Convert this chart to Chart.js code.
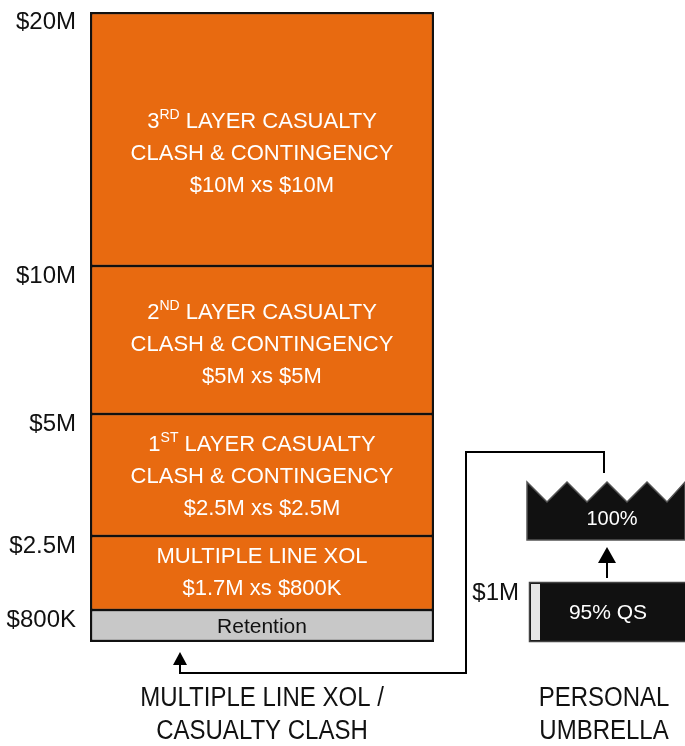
<!DOCTYPE html>
<html>
<head>
<meta charset="utf-8">
<script src="https://cdn.jsdelivr.net/npm/chart.js@4.4.1/dist/chart.umd.min.js"></script>
<style>
  html, body { margin: 0; padding: 0; background: #fff; }
  #wrap { width: 685px; height: 746px; position: relative; }
</style>
</head>
<body>
<div id="wrap"><canvas id="towerChart"></canvas></div>
<script>
// program data ($M)
const layerNames = ['Retention', 'Multiple Line XOL', '1st Layer', '2nd Layer', '3rd Layer'];
const layerStart = [0, 0.8, 2.5, 5, 10];
const layerEnd = [0.8, 2.5, 5, 10, 20];
const layerText = [
  ['Retention'],
  ['MULTIPLE LINE XOL', '$1.7M xs $800K'],
  ['1{ST} LAYER CASUALTY', 'CLASH & CONTINGENCY', '$2.5M xs $2.5M'],
  ['2{ND} LAYER CASUALTY', 'CLASH & CONTINGENCY', '$5M xs $5M'],
  ['3{RD} LAYER CASUALTY', 'CLASH & CONTINGENCY', '$10M xs $10M']
];
const tickValues = [0.8, 2.5, 5, 10, 20];
const tickLabels = ['$800K', '$2.5M', '$5M', '$10M', '$20M'];
const umbrellaLayers = ['95% QS', '100%'];
const umbrellaAttach = '$1M';
const programLabels = [['MULTIPLE LINE XOL /', 'CASUALTY CLASH'], ['PERSONAL', 'UMBRELLA']];

// styling
const layerColors = ['#c8c8c8', '#e86a10', '#e86a10', '#e86a10', '#e86a10'];
const layerTextColors = ['#111', '#fff', '#fff', '#fff', '#fff'];
const layerTextShift = [1, 0, 2, 5, 15];
const FONT = '"Liberation Sans", Arial, sans-serif';

// tower is not drawn to scale: each break gets its own share of the height
const breakValues = [0, 0.8, 2.5, 5, 10, 20];
const breakShare = [0, 32, 106, 228, 376, 630].map(v => v / 630);

class TowerScale extends Chart.LinearScale {
  getPixelForValue(value) {
    if (value === null || value === undefined) return NaN;
    let f = 0;
    for (let i = 1; i < breakValues.length; i++) {
      if (value <= breakValues[i] || i === breakValues.length - 1) {
        const t = (value - breakValues[i - 1]) / (breakValues[i] - breakValues[i - 1]);
        f = breakShare[i - 1] + t * (breakShare[i] - breakShare[i - 1]);
        break;
      }
    }
    return this.getPixelForDecimal(f);
  }
  getValueForPixel(pixel) {
    const f = this.getDecimalForPixel(pixel);
    for (let i = 1; i < breakShare.length; i++) {
      if (f <= breakShare[i] || i === breakShare.length - 1) {
        const t = (f - breakShare[i - 1]) / (breakShare[i] - breakShare[i - 1]);
        return breakValues[i - 1] + t * (breakValues[i] - breakValues[i - 1]);
      }
    }
  }
}
TowerScale.id = 'tower';
TowerScale.defaults = Chart.LinearScale.defaults;
Chart.register(TowerScale);

// draws a line of text, "{XX}" parts as superscript
function drawRich(ctx, text, cx, cy, size) {
  const parts = text.split(/(\{[^}]*\})/).filter(p => p.length);
  const bigFont = size + 'px ' + FONT;
  const smallFont = Math.round(size * 0.62) + 'px ' + FONT;
  let total = 0;
  const widths = parts.map(p => {
    const sup = p[0] === '{';
    ctx.font = sup ? smallFont : bigFont;
    const w = ctx.measureText(sup ? p.slice(1, -1) : p).width;
    total += w;
    return w;
  });
  let x = cx - total / 2;
  ctx.textAlign = 'left';
  ctx.textBaseline = 'middle';
  parts.forEach((p, i) => {
    const sup = p[0] === '{';
    ctx.font = sup ? smallFont : bigFont;
    ctx.fillText(sup ? p.slice(1, -1) : p, x, sup ? cy - size * 0.3 : cy);
    x += widths[i];
  });
}

const layerLabels = {
  id: 'layerLabels',
  afterDatasetsDraw(chart) {
    const ctx = chart.ctx;
    ctx.save();
    chart.data.datasets.forEach((ds, di) => {
      const bar = chart.getDatasetMeta(di).data[0];
      if (!bar) return;
      const lines = layerText[di];
      const size = di === 0 ? 21 : 22;
      const lh = 32;
      const cy = (bar.y + bar.base) / 2 + layerTextShift[di];
      ctx.fillStyle = layerTextColors[di];
      lines.forEach((ln, li) => {
        drawRich(ctx, ln, bar.x, cy + (li - (lines.length - 1) / 2) * lh, size);
      });
    });
    ctx.restore();
  }
};

// personal umbrella schematic, connector and program captions
const umbrellaSketch = {
  id: 'umbrellaSketch',
  afterDraw(chart) {
    const ctx = chart.ctx;
    const area = chart.chartArea;
    ctx.save();

    // zigzag-topped 100% layer
    ctx.beginPath();
    ctx.moveTo(527, 482);
    let x = 527, up = true;
    while (x < 685) {
      x += 20;
      up = !up;
      ctx.lineTo(Math.min(x, 685), up ? 482 : 502);
    }
    ctx.lineTo(685, 540);
    ctx.lineTo(527, 540);
    ctx.closePath();
    ctx.fillStyle = '#111';
    ctx.fill();
    ctx.strokeStyle = '#555';
    ctx.lineWidth = 1.5;
    ctx.stroke();

    // 95% QS layer
    ctx.fillStyle = '#111';
    ctx.fillRect(529, 582, 160, 60);
    ctx.strokeStyle = '#444';
    ctx.strokeRect(529.5, 582.5, 160, 59);
    ctx.fillStyle = '#e6e6e6';
    ctx.fillRect(531, 584, 9, 56);

    ctx.fillStyle = '#fff';
    ctx.font = '21px ' + FONT;
    ctx.textAlign = 'center';
    ctx.textBaseline = 'middle';
    ctx.fillText(umbrellaLayers[0], 608, 613);
    ctx.font = '20px ' + FONT;
    ctx.fillText(umbrellaLayers[1], 612, 519);

    ctx.fillStyle = '#111';
    ctx.font = '24px ' + FONT;
    ctx.textAlign = 'right';
    ctx.fillText(umbrellaAttach, 519, 593);

    // arrows
    ctx.strokeStyle = '#000';
    ctx.lineWidth = 2;
    ctx.beginPath();
    ctx.moveTo(607, 578);
    ctx.lineTo(607, 560);
    ctx.stroke();
    ctx.beginPath();
    ctx.moveTo(607, 547);
    ctx.lineTo(598, 563);
    ctx.lineTo(616, 563);
    ctx.closePath();
    ctx.fillStyle = '#000';
    ctx.fill();

    ctx.beginPath();
    ctx.moveTo(604, 473);
    ctx.lineTo(604, 452);
    ctx.lineTo(466, 452);
    ctx.lineTo(466, 673);
    ctx.lineTo(180, 673);
    ctx.lineTo(180, 663);
    ctx.stroke();
    ctx.beginPath();
    ctx.moveTo(180, 652);
    ctx.lineTo(173, 665);
    ctx.lineTo(187, 665);
    ctx.closePath();
    ctx.fill();

    // captions under each program
    const centers = [(area.left + area.right) / 2, 604];
    ctx.fillStyle = '#111';
    ctx.font = '24px ' + FONT;
    ctx.textAlign = 'center';
    ctx.textBaseline = 'middle';
    programLabels.forEach((lines, i) => {
      lines.forEach((ln, li) => {
        ctx.save();
        ctx.translate(centers[i], 698 + li * 33);
        ctx.scale(1, 1.15);
        ctx.fillText(ln, 0, 0);
        ctx.restore();
      });
    });
    ctx.restore();
  }
};

const last = layerNames.length - 1;
const datasets = layerNames.map((name, i) => ({
  label: name,
  data: [[layerStart[i], layerEnd[i]]],
  backgroundColor: layerColors[i],
  borderColor: '#111',
  borderWidth: { left: 2.5, right: 2.5, top: i === last ? 2.5 : 1.5, bottom: i === 0 ? 2.5 : 1.5 },
  borderSkipped: false,
  barPercentage: 1,
  categoryPercentage: 1
}));

new Chart(document.getElementById('towerChart'), {
  type: 'bar',
  data: { labels: ['Tower'], datasets },
  options: {
    responsive: true,
    maintainAspectRatio: false,
    animation: false,
    layout: { padding: { top: 12, right: 251, bottom: 104, left: 0 } },
    plugins: { legend: { display: false }, tooltip: { enabled: false } },
    scales: {
      x: { stacked: true, display: false },
      y: {
        type: 'tower',
        min: 0,
        max: 20,
        grid: { display: false, drawTicks: false },
        border: { display: false },
        afterBuildTicks(scale) {
          scale.ticks = tickValues.map(v => ({ value: v }));
        },
        afterFit(scale) {
          scale.width = 90;
          scale.paddingTop = 0;
          scale.paddingBottom = 0;
        },
        ticks: {
          padding: 14,
          labelOffset: 10,
          color: '#111',
          font: { family: FONT, size: 24 },
          callback: (value, index) => tickLabels[index]
        }
      }
    }
  },
  plugins: [layerLabels, umbrellaSketch]
});
</script>
</body>
</html>
